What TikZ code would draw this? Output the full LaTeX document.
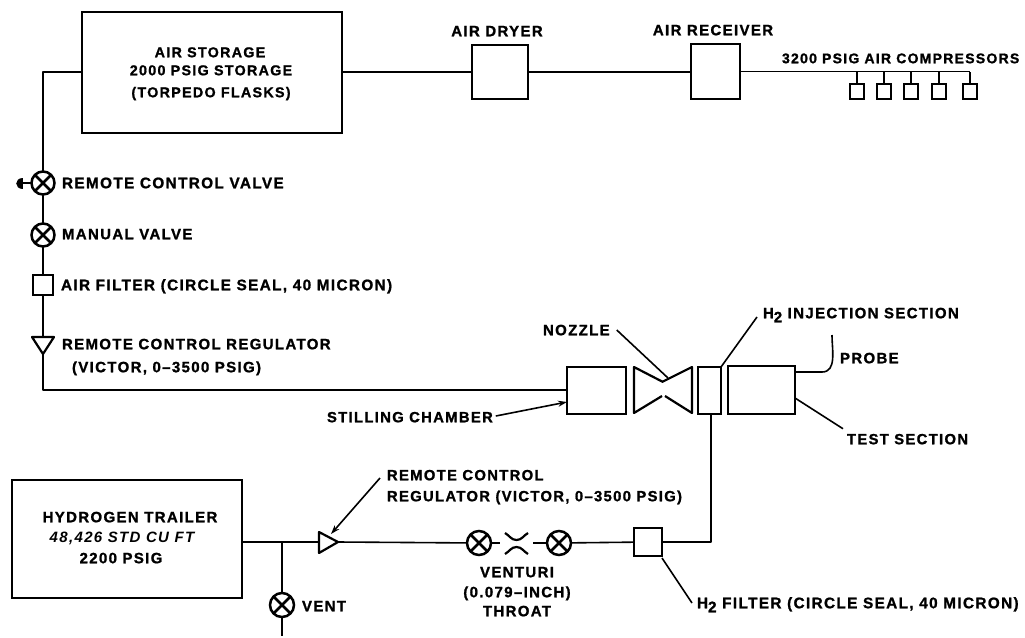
\documentclass[tikz,border=0pt]{standalone}
\usepackage{fontspec}
\setmainfont{Liberation Sans}[LetterSpace=9,BoldFeatures={FakeBold=1.2}]
\usetikzlibrary{arrows.meta}
\tikzset{
  line/.style={line width=1.6pt,line join=round},
  boxn/.style={draw,line width=2.2pt,inner sep=0pt,outer sep=0pt},
  valve/.style={circle,draw,line width=2.5pt,minimum size=23pt,inner sep=0pt,outer sep=0pt,
    path picture={\draw[line width=2.5pt] (path picture bounding box.north west)--(path picture bounding box.south east)
    (path picture bounding box.north east)--(path picture bounding box.south west);}},
  comp/.style={boxn,minimum width=14pt,minimum height=15pt},
  lab/.style={inner sep=0pt,outer sep=0pt,anchor=west,font=\fontsize{15}{17}\bfseries,text height=10.5pt,text depth=0pt},
  clab/.style={lab,anchor=center},
  tight/.style={font=\fontsize{14.3}{17}\bfseries},
  tighter/.style={font=\fontsize{14}{17}\bfseries},
  mid/.style={font=\fontsize{14.8}{17}\bfseries},
  wide/.style={font=\fontsize{15.3}{17}\bfseries},
  tip/.style={-{Stealth[length=9pt,width=6pt]}}
}
\newcommand{\Hh}{H\raisebox{-4pt}{2}}
\begin{document}
\begin{tikzpicture}[x=1pt,y=-1pt]
\useasboundingbox[fill=white] (0,0) rectangle (1025,637);
% boxes
\node[boxn,minimum width=260pt,minimum height=121pt] (store) at (212,72.5) {};
\node[boxn,minimum width=56pt,minimum height=54pt] (dryer) at (500,72) {};
\node[boxn,minimum width=49pt,minimum height=55pt] (recv) at (715.5,71.5) {};
\foreach \n/\x in {c1/857,c2/884,c3/911,c4/939,c5/970}
  \node[comp] (\n) at (\x,91.5) {};
\coordinate (busend) at (970,71.5);
\node[valve] (v1) at (43,183) {};
\node[valve] (v2) at (43,235) {};
\node[boxn,minimum width=20pt,minimum height=20pt] (airf) at (43,285) {};
\coordinate (regin) at (43,337);
\coordinate (regout) at (43,354);
\coordinate (corner) at (43,390);
\coordinate (storeL) at (43,72);
\node[boxn,minimum width=59pt,minimum height=47pt] (still) at (596.5,390.5) {};
\node[boxn,minimum width=23pt,minimum height=47pt] (inj) at (709.5,390.5) {};
\node[boxn,minimum width=67pt,minimum height=48pt] (test) at (761.5,390) {};
\node[boxn,minimum width=230pt,minimum height=118pt] (htrail) at (127,539) {};
\coordinate (tee) at (282,542);
\node[valve,minimum size=24pt] (vv) at (282,605) {};
\coordinate (ventend) at (282,636);
\coordinate (hregin) at (319,542);
\coordinate (hregout) at (338,542);
\node[valve,minimum size=24pt] (hv1) at (479,543) {};
\node[valve,minimum size=24pt] (hv2) at (559,543) {};
\coordinate (vl) at (500,543);
\coordinate (vr) at (533,543);
\node[boxn,minimum width=28pt,minimum height=28pt] (hf) at (648,542) {};
\coordinate (hcorner) at (711,542);
% top line
\draw[line] (store.east |- dryer.west) -- (dryer.west);
\draw[line] (dryer.east) -- (recv.west |- dryer.east);
\draw[line] (recv.east) -- (busend);
\foreach \n in {c1,c2,c3,c4,c5} \draw[line] (\n.north) -- (\n.north |- busend);
% left line
\draw[line] (storeL -| store.west) -- (storeL) -- (v1);
\draw[line] (v1) -- (v2);
\draw[line] (v2) -- (airf);
\draw[line] (airf) -- (regin);
\draw[line,line width=2.2pt] (32,337) -- (54,337) -- (regout) -- cycle;
\draw[line] (regout) -- (corner) -- (corner -| still.west);
% handle of remote valve
\coordinate (hstub) at (23,183);
\draw[line] (v1.west) -- (hstub);
\fill (23,177.5) .. controls (14,177.5) and (14,188.5) .. (23,188.5) -- cycle;
% nozzle
\draw[line,line width=2.2pt] (663,382) -- (634,367) -- (634,413) -- (662,396);
\draw[line,line width=2.2pt] (662,382) -- (692,367) -- (692,413) -- (665,396);
% probe
\coordinate (pr) at (832,335);
\draw[line] (test.east |- 0,372) -- (822,372) to[out=0,in=270] (pr);
% hydrogen line
\draw[line] (htrail.east |- tee) -- (hregin);
\draw[line] (tee) -- (vv);
\draw[line] (vv) -- (ventend);
\draw[line,line width=2.2pt] (319,532) -- (319,553) -- (hregout) -- cycle;
\draw[line] (hregout) -- (hv1);
\draw[line] (hv1) -- (vl);
\draw[line] (vr) -- (hv2);
\draw[line] (hv2) -- (hf);
\draw[line] (hf.east) -- (hcorner) -- (inj.south -| hcorner);
% venturi
\draw[line,line width=2.2pt] (505,533) to[out=-30,in=180] (516.5,540) to[out=0,in=210] (528,533);
\draw[line,line width=2.2pt] (505,554) to[out=30,in=180] (516.5,547) to[out=0,in=150] (528,554);
% labels
\node[clab,tight] (t1) at (210,52) {AIR STORAGE};
\node[clab,tight] (t2) at (211,70) {2000 PSIG STORAGE};
\node[clab,tight] (t3) at (211,92) {(TORPEDO FLASKS)};
\node[clab] (t4) at (497,31) {AIR DRYER};
\node[clab] (t5) at (713,30) {AIR RECEIVER};
\node[lab,tighter] (t6) at (782,58) {3200 PSIG AIR COMPRESSORS};
\node[lab,wide] (t7) at (62,183) {REMOTE CONTROL VALVE};
\node[lab] (t8) at (62,234) {MANUAL VALVE};
\node[lab,wide] (t9) at (61,285) {AIR FILTER (CIRCLE SEAL, 40 MICRON)};
\node[lab] (t10) at (62,344) {REMOTE CONTROL REGULATOR};
\node[lab] (t11) at (72,367) {(VICTOR, 0--3500 PSIG)};
\node[lab] (noz) at (543,330) {NOZZLE};
\node[lab] (inl) at (763,313) {\Hh\ INJECTION SECTION};
\node[lab] (prl) at (840,358) {PROBE};
\node[lab,mid] (stl) at (327,417) {STILLING CHAMBER};
\node[lab,mid] (tsl) at (847,439) {TEST SECTION};
\node[lab,mid] (rr1) at (387,475) {REMOTE CONTROL};
\node[lab,mid] (rr2) at (387,496) {REGULATOR (VICTOR, 0--3500 PSIG)};
\node[clab] (h1) at (130,517) {HYDROGEN TRAILER};
\node[clab] (h2) at (122,537) {\itshape 48,426 STD CU FT};
\node[clab] (h3) at (121,558) {2200 PSIG};
\node[clab] (v3) at (517,572) {VENTURI};
\node[clab] (v4) at (517,592) {(0.079--INCH)};
\node[clab] (v5) at (517,611) {THROAT};
\node[lab] (vnt) at (302,606) {VENT};
\node[lab,wide] (hfl) at (697,603) {\Hh\ FILTER (CIRCLE SEAL, 40 MICRON)};
% leaders
\coordinate (nozt) at (668,378);
\draw[line] (noz.east) ++(7,0) -- (nozt);
\draw[line] (inl.west) ++(-6,4) -- (inj.north east);
\draw[line,tip] (stl.east) ++(3,-1) -- (still.west |- 0,402);
\draw[line] (tsl.north west) ++(-4,-5) -- (test.east |- 0,398);
\draw[line,tip] (rr1.west) ++(-7,3) -- (331,534);
\draw[line] (hf.south east) ++(0,2) -- (692,603);
\end{tikzpicture}
\end{document}
